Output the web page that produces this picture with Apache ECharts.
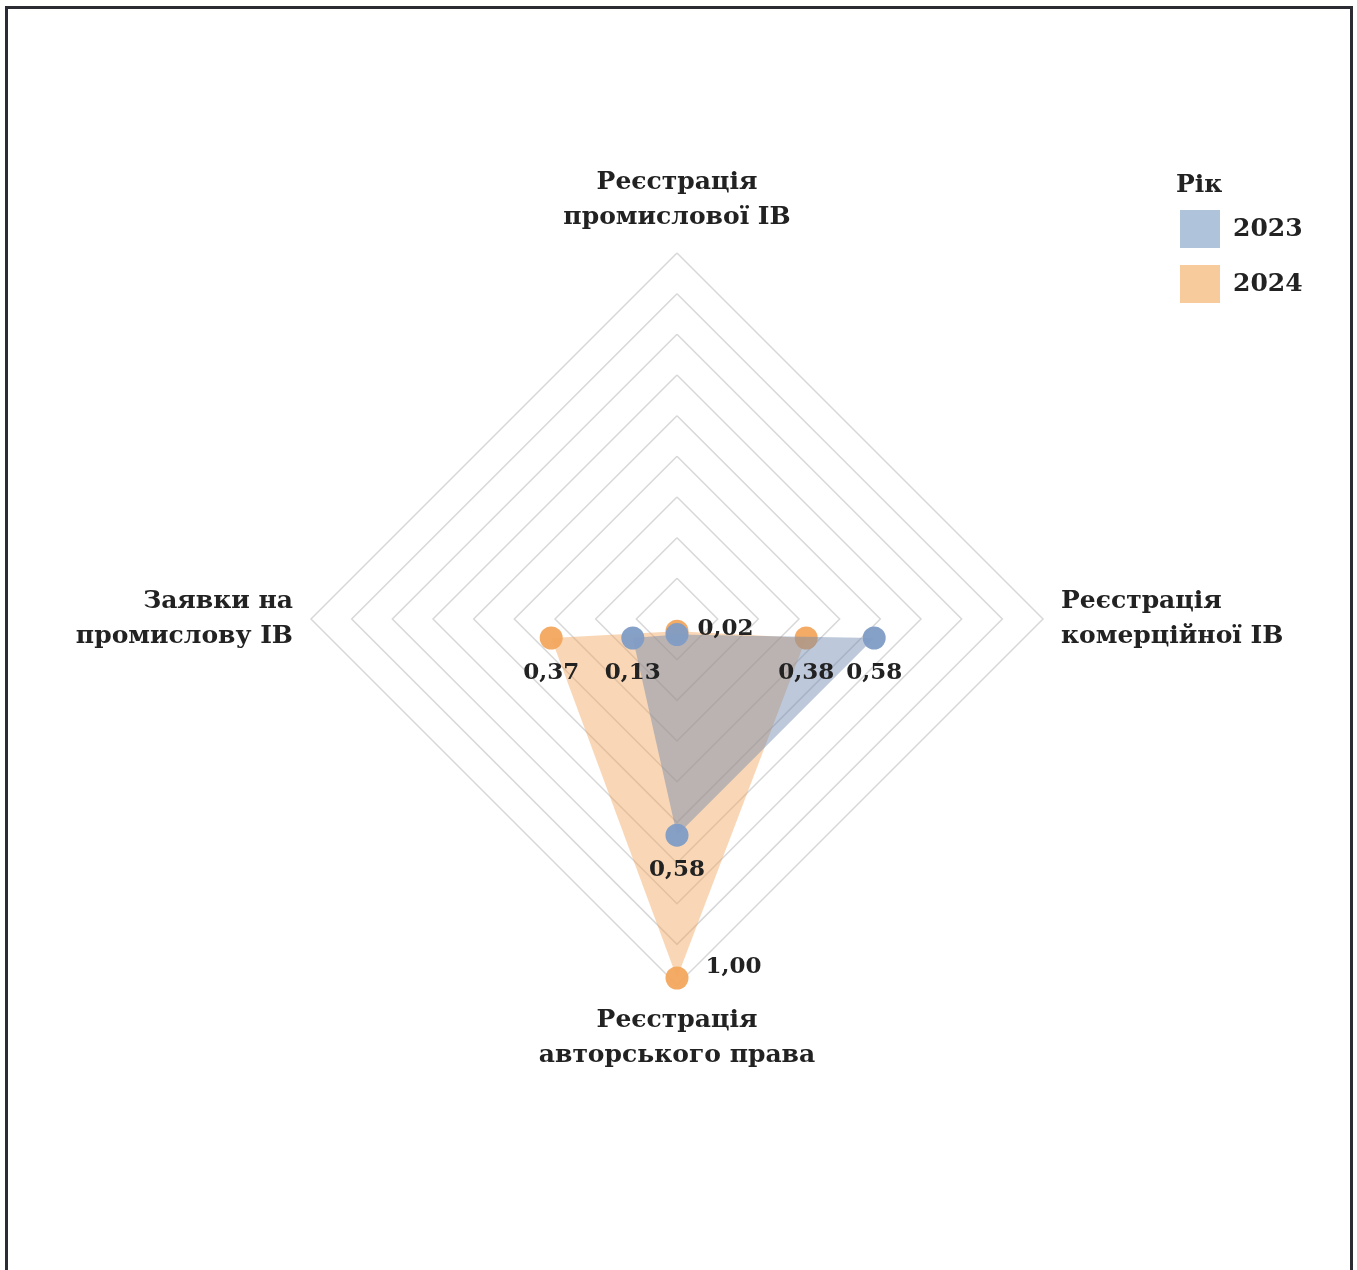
<!DOCTYPE html>
<html><head><meta charset="utf-8">
<script src="https://cdn.jsdelivr.net/npm/echarts@6/dist/echarts.min.js"></script>
<style>
html,body{margin:0;padding:0;background:#fff;overflow:hidden}
#c{position:absolute;left:0;top:0;width:1357px;height:1270px}
#frame{position:absolute;left:5px;top:6px;width:1342px;height:1400px;border:3px solid #2b2b33;border-bottom:none;pointer-events:none}
</style></head>
<body><div id="c"></div><div id="frame"></div>
<script>
// Indicators, counter-clockwise from the top
const indicators = ['Реєстрація\nпромислової ІВ', 'Заявки на\nпромислову ІВ', 'Реєстрація\nавторського права', 'Реєстрація\nкомерційної ІВ'];
const years = ['2023', '2024'];
const values2023 = [0.01, 0.13, 0.58, 0.58];
const values2024 = [0.02, 0.37, 1.00, 0.38];
const axisMax = 1;
const ringCount = 9;
const legendTitle = 'Рік';

const FONT = 'DejaVu Serif';
const TXT = '#222222';
const fmt = v => v.toFixed(2).replace('.', ',');
const dotBlue = '#7f9cc5', dotOrange = '#f2a75e';

function labelItem(name, values, showIdx, labelOpt) {
  return {
    name: name, value: values, symbolSize: 1,
    itemStyle: {color: 'rgba(0,0,0,0)'}, lineStyle: {opacity: 0, width: 0}, areaStyle: {opacity: 0},
    label: Object.assign({
      show: true, color: TXT, fontFamily: FONT, fontSize: 23, fontWeight: 'bold',
      formatter: p => showIdx.includes(values.indexOf(p.value)) ? fmt(p.value) : ''
    }, labelOpt)
  };
}

const chart = echarts.init(document.getElementById('c'), null, {renderer: 'canvas'});
chart.setOption({
  animation: false,
  backgroundColor: '#fff',
  title: {text: legendTitle, left: 1171, top: 168, textStyle: {fontFamily: FONT, fontSize: 25, fontWeight: 'bold', color: TXT}},
  legend: {
    orient: 'vertical', left: 1175, top: 205, itemWidth: 40, itemHeight: 38, itemGap: 17,
    icon: 'rect', selectedMode: false,
    textStyle: {fontFamily: FONT, fontSize: 25, fontWeight: 'bold', color: TXT, padding: [0, 0, 0, 8]},
    data: [
      {name: years[0], itemStyle: {color: '#abc0d8'}},
      {name: years[1], itemStyle: {color: '#f8c898'}}
    ]
  },
  radar: [
    {
      center: [677, 619], radius: 366, shape: 'polygon', splitNumber: ringCount,
      indicator: indicators.map(n => ({name: n, max: axisMax, min: 0})),
      nameGap: 18,
      axisName: {color: TXT, fontFamily: FONT, fontSize: 25, fontWeight: 'bold', lineHeight: 35},
      axisLine: {show: false}, axisTick: {show: false}, axisLabel: {show: false},
      splitArea: {show: false},
      splitLine: {lineStyle: {color: '#d8d8d8', width: 1.5}}
    },
    {
      center: [677, 638], radius: 340, shape: 'polygon', splitNumber: ringCount,
      indicator: indicators.map(n => ({name: n, max: axisMax, min: 0})),
      axisName: {show: false},
      axisLine: {show: false}, axisTick: {show: false}, axisLabel: {show: false},
      splitArea: {show: false}, splitLine: {show: false}
    }
  ],
  series: [
    {
      type: 'radar', radarIndex: 1, silent: true, z: 2,
      symbol: 'circle', symbolSize: 23,
      data: [{
        name: years[1], value: values2024,
        itemStyle: {color: dotOrange, opacity: 0.95},
        lineStyle: {width: 0, opacity: 0},
        areaStyle: {color: dotOrange, opacity: 0.45}
      }]
    },
    {
      type: 'radar', radarIndex: 1, silent: true, z: 3,
      symbol: 'circle', symbolSize: 23,
      data: [{
        name: years[0], value: values2023,
        itemStyle: {color: dotBlue, opacity: 0.95},
        lineStyle: {width: 0, opacity: 0},
        areaStyle: {color: '#6d88ad', opacity: 0.45}
      }]
    },
    {
      type: 'radar', radarIndex: 1, silent: true, z: 4, symbol: 'circle',
      data: [
        labelItem(years[0], values2023, [1, 2, 3], {position: 'bottom', distance: 23}),
        labelItem(years[1], values2024, [1, 3], {position: 'bottom', distance: 23}),
        labelItem(years[1], values2024, [0], {position: 'right', distance: 20, offset: [0, -2]}),
        labelItem(years[1], values2024, [2], {position: 'right', distance: 28, offset: [0, -11]})
      ]
    }
  ]
});
</script>
</body></html>
